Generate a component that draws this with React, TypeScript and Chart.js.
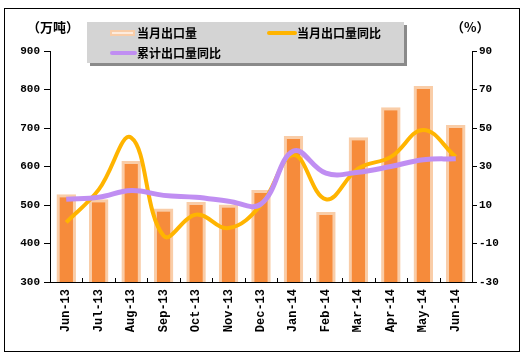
import React, { useEffect, useRef } from "react";
import { Chart, registerables } from "chart.js";

Chart.register(...registerables);

const categories = ["Jun-13", "Jul-13", "Aug-13", "Sep-13", "Oct-13", "Nov-13", "Dec-13", "Jan-14", "Feb-14", "Mar-14", "Apr-14", "May-14", "Jun-14"];
const monthlyExport = [528, 515, 614, 491, 508, 501, 539, 679, 482, 676, 754, 809, 708];
const monthlyYoY = [1, 18, 45, -6, 5, -2, 10, 36, 13, 29, 35, 49, 35];
const cumulativeYoY = [13, 14, 17.5, 15, 14, 12, 10.5, 38, 26.5, 27, 30, 33.5, 34];

const leftTicks = [300, 400, 500, 600, 700, 800, 900];
const rightTicks = [-30, -10, 10, 30, 50, 70, 90];

const BAR_FILL = "#F68B3B";
const BAR_BORDER = "#F9CDA8";
const YELLOW = "#FFB400";
const PURPLE = "#C08EF2";
const TICK_FONT = { family: "'Liberation Mono', monospace", size: 11, weight: "bold" as const };
const X_FONT = { family: "'Liberation Mono', monospace", size: 12, weight: "bold" as const };

const innerTicksPlugin = {
  id: "innerTicks",
  afterDraw(chart: any) {
    const { ctx, chartArea } = chart;
    const x = chart.scales.x;
    const n = categories.length;
    ctx.save();
    ctx.strokeStyle = "#000";
    ctx.lineWidth = 1;
    for (let i = 1; i < n; i++) {
      const px = Math.round((x.getPixelForValue(i - 1) + x.getPixelForValue(i)) / 2) + 0.5;
      ctx.beginPath();
      ctx.moveTo(px, chartArea.bottom);
      ctx.lineTo(px, chartArea.bottom - 4);
      ctx.stroke();
    }
    ctx.restore();
  },
};

export default function App() {
  const ref = useRef<HTMLCanvasElement | null>(null);
  useEffect(() => {
    if (!ref.current) return;
    const chart = new Chart(ref.current, {
      type: "bar",
      data: {
        labels: categories,
        datasets: [
          {
            type: "line",
            label: "累计出口量同比",
            data: cumulativeYoY,
            yAxisID: "y1",
            borderColor: PURPLE,
            borderWidth: 5,
            pointRadius: 0,
            tension: 0.4,
            order: 0,
          },
          {
            type: "line",
            label: "当月出口量同比",
            data: monthlyYoY,
            yAxisID: "y1",
            borderColor: YELLOW,
            borderWidth: 4,
            pointRadius: 0,
            tension: 0.4,
            order: 1,
          },
          {
            type: "bar",
            label: "当月出口量",
            data: monthlyExport,
            yAxisID: "y",
            backgroundColor: BAR_FILL,
            borderColor: BAR_BORDER,
            borderWidth: 3,
            borderSkipped: false,
            barPercentage: 0.6,
            categoryPercentage: 1,
            order: 2,
          },
        ] as any,
      },
      options: {
        animation: false,
        responsive: false,
        maintainAspectRatio: false,
        layout: { padding: { top: 51, left: 0, right: 0, bottom: 0 } },
        plugins: { legend: { display: false }, tooltip: { enabled: false } },
        scales: {
          x: {
            grid: { display: false, drawTicks: false },
            border: { display: true, color: "#000", width: 1 },
            ticks: {
              minRotation: 90,
              maxRotation: 90,
              padding: 7,
              color: "#000",
              font: X_FONT,
            },
            afterFit(scale: any) {
              scale.height = 75;
            },
          },
          y: {
            position: "left",
            min: 300,
            max: 900,
            afterBuildTicks(scale: any) {
              scale.ticks = leftTicks.map((v) => ({ value: v }));
            },
            grid: { drawOnChartArea: false, drawTicks: true, tickLength: 6, color: "#000" },
            border: { display: true, color: "#000", width: 1 },
            ticks: { padding: 4, color: "#000", font: TICK_FONT },
            afterFit(scale: any) {
              scale.width = 50;
            },
          },
          y1: {
            position: "right",
            min: -30,
            max: 90,
            afterBuildTicks(scale: any) {
              scale.ticks = rightTicks.map((v) => ({ value: v }));
            },
            grid: { drawOnChartArea: false, drawTicks: true, tickLength: 5, color: "#000" },
            border: { display: true, color: "#000", width: 1 },
            ticks: { padding: 2, color: "#000", font: TICK_FONT },
            afterFit(scale: any) {
              scale.width = 52;
            },
          },
        },
      },
      plugins: [innerTicksPlugin],
    });
    return () => chart.destroy();
  }, []);

  const textStyle: React.CSSProperties = {
    position: "absolute",
    fontFamily: "'Noto Sans CJK SC', sans-serif",
    fontWeight: "bold",
    fontSize: 12,
    lineHeight: "14px",
    color: "#000",
    whiteSpace: "nowrap",
  };

  return (
    <div style={{ position: "absolute", left: 0, top: 0, width: 524, height: 357, background: "#fff" }}>
      <canvas ref={ref} width={524} height={357} style={{ position: "absolute", left: 0, top: 0 }} />
      <div
        style={{
          position: "absolute",
          left: 4,
          top: 8,
          width: 516,
          height: 344,
          border: "1px solid #000",
          boxSizing: "border-box",
          pointerEvents: "none",
        }}
      />
      <div style={{ ...textStyle, fontSize: 13, left: 27, top: 20 }}>（万吨）</div>
      <div style={{ ...textStyle, fontSize: 13, left: 451, top: 20 }}>（%）</div>
      <div
        style={{
          position: "absolute",
          left: 87,
          top: 22,
          width: 317,
          height: 41,
          background: "#D4D4D4",
          boxShadow: "3px 3px 0 #8a8a8a",
        }}
      >
        <div
          style={{
            position: "absolute",
            left: 23,
            top: 8,
            width: 25,
            height: 6,
            border: "2px solid " + BAR_BORDER,
            background: "#FDEBDD",
            boxSizing: "border-box",
          }}
        />
        <div style={{ ...textStyle, left: 50, top: 4 }}>当月出口量</div>
        <div style={{ position: "absolute", left: 180, top: 9, width: 30, height: 4, background: YELLOW, borderRadius: 2 }} />
        <div style={{ ...textStyle, left: 210, top: 4 }}>当月出口量同比</div>
        <div style={{ position: "absolute", left: 23, top: 29, width: 27, height: 4, background: PURPLE, borderRadius: 2 }} />
        <div style={{ ...textStyle, left: 50, top: 24 }}>累计出口量同比</div>
      </div>
    </div>
  );
}
